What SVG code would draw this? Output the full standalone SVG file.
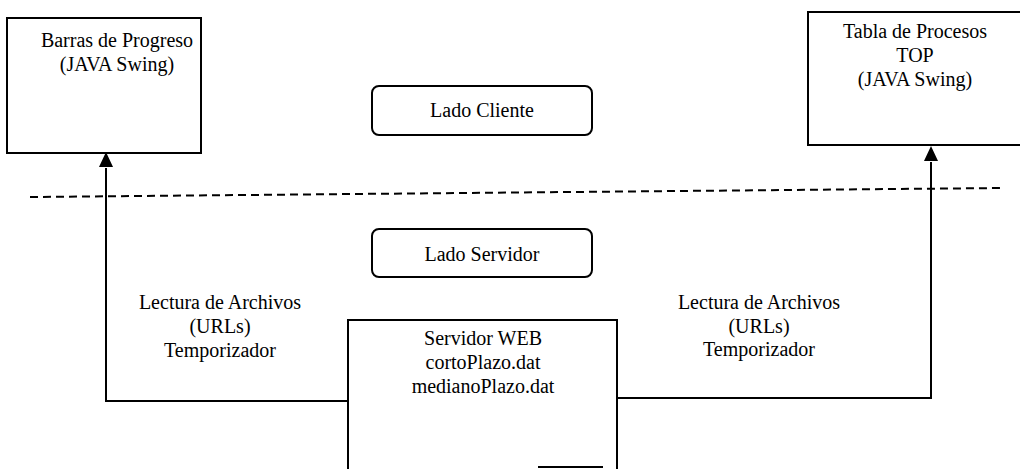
<svg xmlns="http://www.w3.org/2000/svg" width="1020" height="469" viewBox="0 0 1020 469">
<defs>
<style>
.box{fill:#fff;stroke:#000;stroke-width:2}
.ln{fill:none;stroke:#000;stroke-width:2}
.t{font-family:"Liberation Serif","Times New Roman",serif;font-size:20px;fill:#000;text-anchor:middle}
</style>
<marker id="arr" viewBox="0 0 14 15" refX="7" refY="1" markerWidth="14" markerHeight="15" markerUnits="userSpaceOnUse" orient="auto-start-reverse">
<path d="M7,0 L14,15 L0,15 Z" fill="#000"/>
</marker>
</defs>
<rect width="1020" height="469" fill="#fff"/>
<g id="connectors">
<line class="ln" x1="30" y1="197" x2="1003" y2="188" stroke-dasharray="8 5"/>
<path class="ln" d="M348,401 L106,401 L106,168"/>
<path d="M106,152 L113,167 L99,167 Z" fill="#000"/>
<path class="ln" d="M617,398 L931,398 L931,162"/>
<path d="M931,146 L938,161 L924,161 Z" fill="#000"/>
</g>
<g id="barras">
<rect class="box" x="7" y="18" width="194" height="135"/>
<text class="t" x="117" y="47">Barras de Progreso</text>
<text class="t" x="117" y="71">(JAVA Swing)</text>
</g>
<g id="tabla">
<rect class="box" x="808" y="12" width="220" height="133"/>
<text class="t" x="915" y="38">Tabla de Procesos</text>
<text class="t" x="915" y="62">TOP</text>
<text class="t" x="915" y="86">(JAVA Swing)</text>
</g>
<g id="cliente">
<rect class="box" x="372" y="86" width="220" height="49" rx="7"/>
<text class="t" x="482" y="117">Lado Cliente</text>
</g>
<g id="servidorlado">
<rect class="box" x="372" y="229" width="220" height="48" rx="7"/>
<text class="t" x="482" y="261">Lado Servidor</text>
</g>
<g id="servidor">
<path class="ln" d="M348,470 L348,320 L617,320 L617,470"/>
<line class="ln" x1="538" y1="467" x2="603" y2="467"/>
<text class="t" x="483" y="345">Servidor WEB</text>
<text class="t" x="483" y="369">cortoPlazo.dat</text>
<text class="t" x="483" y="393">medianoPlazo.dat</text>
</g>
<g id="label-left">
<text class="t" x="220" y="309">Lectura de Archivos</text>
<text class="t" x="220" y="333">(URLs)</text>
<text class="t" x="220" y="357">Temporizador</text>
</g>
<g id="label-right">
<text class="t" x="759" y="309">Lectura de Archivos</text>
<text class="t" x="759" y="333">(URLs)</text>
<text class="t" x="759" y="356">Temporizador</text>
</g>
</svg>
